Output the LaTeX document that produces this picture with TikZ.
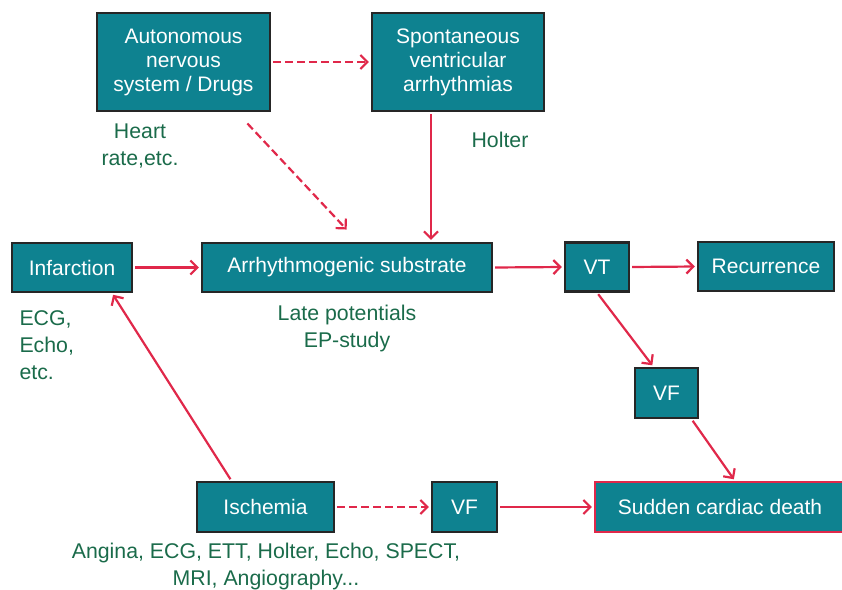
\documentclass[tikz,border=0pt]{standalone}
\usepackage{fontspec}
\setmainfont{Liberation Sans}
\usetikzlibrary{arrows.meta}
\definecolor{boxteal}{RGB}{14,130,144}
\definecolor{arrowred}{RGB}{224,40,74}
\definecolor{notegreen}{RGB}{26,107,74}
\tikzset{
    box/.style={draw=black!85, line width=2.2pt, fill=boxteal, text=white,
        align=center, inner sep=0pt, font=\fontsize{21}{24}\selectfont},
    note/.style={text=notegreen, align=center, font=\fontsize{21.3}{27}\selectfont},
    link/.style={draw=arrowred, line width=2.2pt,
        -{Straight Barb[length=7pt,width=14pt]}, shorten >=2pt, shorten <=2pt},
    dlink/.style={link, dash pattern=on 8pt off 4pt}
}

\begin{document}
\begin{tikzpicture}[x=1pt, y=-1pt]
        \useasboundingbox (0, 0) rectangle (842, 589);
        % top row: autonomous nervous system and spontaneous arrhythmias
        \node[box, minimum width=173, minimum height=98] (ans) at (183.5, 62)
            {Autonomous\\nervous\\system / Drugs};
        \node[box, minimum width=172, minimum height=98] (sva) at (458, 62)
            {Spontaneous\\ventricular\\arrhythmias};
        \draw[dlink] (ans.east) -- (sva.west);
        % notes under the top row
        \node[note] (hr) at (140, 146) {Heart\\rate,etc.};
        \node[note] (holter) at (500, 140) {Holter};
        % middle row: infarction, substrate, VT, recurrence
        \node[box, minimum width=120, minimum height=49] (infarct) at (72, 267.5) {Infarction};
        \node[box, minimum width=290, minimum height=49] (subst) at (347, 267.5)
            {Arrhythmogenic substrate};
        \node[box, minimum width=64, minimum height=49] (vt) at (597, 267) {VT};
        \node[box, minimum width=136, minimum height=49] (recur) at (766, 266.5) {Recurrence};
        % free ends of the dashed diagonal
        \coordinate (dstart) at (246, 122);
        \coordinate (dend) at (348, 231);
        \draw[dlink] (dstart) -- (dend);
        \draw[link] ([xshift=-27]sva.south) -- ([xshift=-27]sva.south |- subst.north);
        \draw[link] (infarct.east) -- (subst.west);
        \draw[link] (subst.east) -- (vt.west);
        \draw[link] (vt.east) -- (recur.west);
        % notes under the middle row
        \node[note, align=left, anchor=west] (ecg) at (16, 345) {ECG,\\Echo,\\etc.};
        \node[note] (late) at (347, 328) {Late potentials\\EP-study};
        % VF after VT
        \node[box, minimum width=63, minimum height=50] (vfa) at (666.5, 393) {VF};
        \draw[link] (vt.south) -- ([xshift=-13]vfa.north);
        % bottom row: ischemia, VF, sudden death
        \node[box, minimum width=137, minimum height=50] (isch) at (265.5, 507) {Ischemia};
        \node[box, minimum width=65, minimum height=50] (vfb) at (464.5, 507) {VF};
        \node[box, draw=arrowred, minimum width=250, minimum height=50] (scd) at (720, 507)
            {Sudden cardiac death};
        \draw[dlink] (isch.east) -- (vfb.west);
        \draw[link] (vfb.east) -- (scd.west);
        \draw[link] ([xshift=25]vfa.south) -- ([xshift=15]scd.north);
        \draw[link] ([xshift=-34]isch.north) -- ([xshift=40]infarct.south);
        % note under ischemia
        \node[note] (tests) at (266, 566)
            {Angina, ECG, ETT, Holter, Echo, SPECT,\\MRI, Angiography...};
    \end{tikzpicture}
\end{document}
